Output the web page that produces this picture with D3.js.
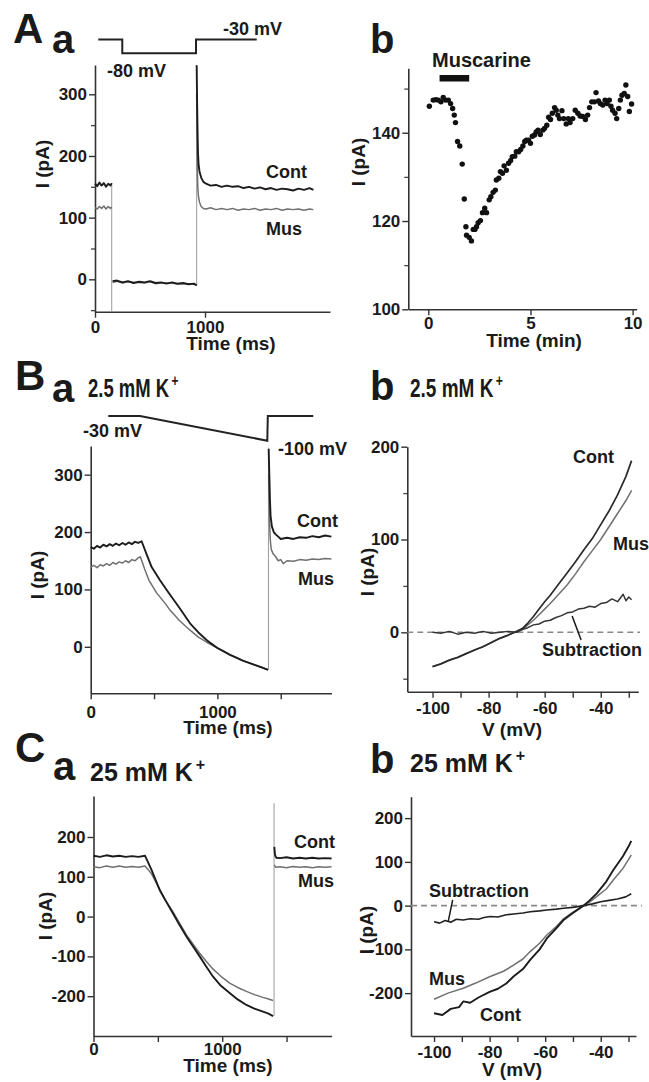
<!DOCTYPE html>
<html>
<head>
<meta charset="utf-8">
<script src="https://cdn.jsdelivr.net/npm/d3@7/dist/d3.min.js"></script>
<style>
  html, body { margin: 0; padding: 0; background: #fff; }
  svg { display: block; }
</style>
</head>
<body>
<script>
// ---------------- DATA ----------------
// Panel A a : current traces (time ms, current pA)
const aaContPre  = [[0,155],[20,151],[40,157],[60,152],[80,156],[100,150],[120,155],[140,152],[152,156]];
const aaMusPre   = [[0,116],[20,114],[40,118],[60,115],[80,119],[100,114],[120,118],[140,115],[152,117]];
const aaContMid  = [[160,-3],[200,-2],[250,-5],[300,-3],[350,-6],[400,-4],[450,-5],[500,-3],[550,-6],[600,-5],[650,-7],[700,-5],[750,-7],[800,-6],[850,-8],[900,-7],[924,-10]];
const aaMusMid   = [[160,-5],[200,-3],[250,-6],[300,-4],[350,-5],[400,-5],[450,-6],[500,-4],[550,-7],[600,-6],[650,-6],[700,-6],[750,-8],[800,-7],[850,-7],[900,-8],[924,-9]];
const aaContPost = [[924,347],[928,290],[932,240],[936,205],[942,185],[950,175],[965,165],[985,158],[1010,155],[1050,152],[1100,153],[1150,150],[1200,152],[1250,150],[1300,151],[1350,148],[1400,150],[1450,147],[1500,149],[1550,146],[1600,148],[1650,145],[1700,147],[1750,146],[1800,144],[1850,147],[1900,145],[1950,148],[1985,145]];
const aaMusPost  = [[924,300],[927,250],[930,180],[934,150],[940,135],[950,125],[965,118],[985,115],[1010,114],[1050,116],[1100,113],[1150,115],[1200,113],[1250,115],[1300,112],[1350,114],[1400,113],[1450,115],[1500,112],[1550,114],[1600,113],[1650,115],[1700,112],[1750,114],[1800,113],[1850,114],[1900,112],[1950,114],[1985,113]];
const aaTransients = [[152,156,-52],[924,-10,347]];
const aaProtocol = [[30,-30],[248,-30],[248,-80],[918,-80],[918,-30],[1470,-30]];

// Panel A b : current vs time (min)
const abTime    = [0.05,0.24,0.37,0.49,0.62,0.73,0.85,0.98,1.09,1.19,1.27,1.33,1.43,1.54,1.66,1.76,1.84,1.87,2.0,2.11,2.2,2.28,2.36,2.44,2.55,2.65,2.76,2.85,2.98,3.06,3.17,3.28,3.33,3.45,3.53,3.63,3.71,3.82,3.93,4.03,4.11,4.23,4.31,4.42,4.52,4.63,4.72,4.8,4.91,5.0,5.09,5.2,5.28,5.37,5.48,5.61,5.69,5.8,5.89,5.98,6.07,6.18,6.26,6.34,6.42,6.54,6.63,6.75,6.85,6.94,7.07,7.19,7.32,7.43,7.56,7.69,7.8,7.89,8.0,8.13,8.21,8.33,8.42,8.54,8.65,8.75,8.86,8.94,9.02,9.14,9.22,9.32,9.4,9.48,9.59,9.67,9.76,9.84,9.95];
const abCurrent = [146.0,147.4,147.5,147.4,147.0,148.0,147.4,147.4,146.6,145.5,144.0,142.3,138.0,137.0,132.9,125.0,118.7,116.8,116.3,115.5,118.1,118.1,118.7,119.6,120.1,121.9,122.9,121.9,124.8,125.5,126.5,127.0,129.3,129.7,131.2,130.8,132.5,131.5,133.1,133.7,134.6,134.7,135.7,135.7,136.2,137.0,138.0,138.3,138.3,137.6,139.2,139.5,140.2,140.6,139.6,140.6,141.0,141.7,143.5,143.0,144.4,145.7,145.1,144.0,143.2,145.0,143.2,142.0,143.2,142.3,143.2,145.1,144.4,143.8,143.7,143.0,144.0,145.7,147.0,147.0,149.1,147.2,146.6,146.3,147.4,146.6,147.4,146.0,145.1,144.4,143.2,145.5,147.4,148.5,148.9,150.8,148.2,144.8,146.5];
const muscarineBar = [0.55, 2.0];

// Panel B a : 2.5 mM K+, ramp protocol
const baCont = [[0,174],[25,171],[50,176],[75,173],[100,178],[125,175],[150,179],[175,176],[200,180],[225,177],[250,181],[275,178],[300,182],[325,179],[350,183],[375,181],[402,184],[440,162],[481,139],[547,116],[600,99],[652,83],[700,68],[784,41],[850,25],[915,12],[950,6],[1000,-2],[1050,-8],[1100,-14],[1150,-19],[1200,-24],[1250,-28],[1300,-32],[1350,-36],[1400,-40]];
const baMus  = [[0,139],[25,142],[50,138],[75,143],[100,141],[125,145],[150,142],[175,147],[200,144],[225,148],[250,146],[275,150],[300,147],[325,152],[350,150],[375,155],[392,157],[425,136],[460,116],[520,94],[594,74],[626,64],[700,46],[784,29],[850,17],[915,8],[950,4],[1000,-2],[1050,-8],[1100,-14],[1150,-19],[1200,-24],[1250,-28],[1300,-32],[1350,-36],[1400,-40]];
const baContPost = [[1405,345],[1410,300],[1415,255],[1420,228],[1430,210],[1445,200],[1460,196],[1480,192],[1500,188],[1550,190],[1600,188],[1650,191],[1700,190],[1750,193],[1800,191],[1850,194],[1900,192]];
const baMusPost  = [[1405,300],[1408,260],[1412,215],[1418,185],[1425,170],[1440,162],[1460,157],[1480,150],[1500,152],[1520,145],[1550,150],[1600,149],[1650,152],[1700,151],[1750,153],[1800,152],[1850,154],[1900,153]];
const baTransients = [[1403,-40,347]];
const baProtocol = [[139,-30],[389,-30],[1394,-100],[1398,-30],[1757,-30]];

// Panel B b : I-V (mV, pA)
const bbCont = [[-100,-37],[-97,-34],[-94,-30],[-91,-27],[-88,-23],[-85,-19],[-82,-15.5],[-79,-11],[-76,-6.5],[-73,-3],[-70,1],[-68,4],[-66,10],[-64,17],[-62,25],[-60,33],[-58,40],[-55,52],[-52,64],[-49,76],[-46,89],[-43,101],[-40,116],[-37,131],[-34,148],[-31,168],[-29,185]];
const bbMus  = [[-100,-37],[-97,-34],[-94,-30],[-91,-27],[-88,-23],[-85,-19],[-82,-15.5],[-79,-11],[-76,-6.5],[-73,-3],[-70,1],[-68,3],[-66,8],[-64,13],[-62,19],[-60,25],[-58,31],[-55,41],[-52,51],[-49,63],[-46,76],[-43,88],[-40,100],[-37,114],[-34,128],[-31,142],[-29,153]];
const bbSub  = [[-100,0],[-97,-1],[-94,1],[-91,-2],[-88,0],[-85,-1],[-82,1],[-79,-1],[-76,0],[-73,1],[-70,0],[-68,3],[-66,5],[-64,8],[-62,9],[-60,12],[-58,13],[-56,16],[-54,18],[-52,21],[-50,22],[-48,25],[-46,26],[-44,28],[-42,27],[-40,31],[-38,32],[-36,36],[-34,33],[-32,41],[-31,34],[-30,38],[-29,35]];
const bbPointer = [[-50.2,17.5],[-47,-8.3]];

// Panel C a : 25 mM K+
const caCont = [[0,153],[50,150],[100,154],[150,151],[200,153],[250,150],[300,152],[350,150],[400,153],[450,118],[514,67],[566,37],[618,8],[670,-22],[722,-50],[775,-76],[825,-100],[877,-126],[929,-151],[990,-174],[1058,-192],[1120,-208],[1188,-222],[1250,-231],[1317,-239],[1360,-244],[1395,-250]];
const caMus  = [[0,125],[50,123],[100,127],[150,124],[200,127],[250,124],[300,126],[350,124],[400,127],[450,108],[489,84],[560,40],[618,12],[670,-17],[722,-46],[775,-70],[825,-92],[877,-113],[929,-132],[990,-150],[1058,-167],[1120,-178],[1188,-188],[1250,-196],[1317,-203],[1360,-207],[1395,-211]];
const caContPost = [[1405,175],[1410,155],[1420,148],[1450,147],[1500,149],[1550,146],[1600,148],[1650,146],[1700,148],[1750,146],[1800,147],[1850,146]];
const caMusPost  = [[1405,130],[1415,124],[1450,125],[1500,123],[1550,126],[1600,124],[1650,125],[1700,123],[1750,125],[1800,124],[1850,125]];
const caTransients = [[1403,-250,285]];

// Panel C b : I-V
const cbCont = [[-100,-246],[-97,-250],[-94,-236],[-91,-232],[-89.5,-219],[-87,-222],[-84,-210],[-80,-197],[-77,-190],[-74,-178],[-71.4,-162],[-68,-145],[-65.4,-124],[-62,-100],[-59.4,-75],[-56,-52],[-53.4,-33],[-50,-17],[-46.2,0],[-44,12],[-41.4,28],[-38,55],[-35.4,82],[-32,113],[-30,135],[-29,148]];
const cbMus  = [[-100,-214],[-95,-200],[-89.5,-189],[-85,-177],[-79.8,-162],[-75,-150],[-71.4,-136],[-68,-122],[-65.4,-105],[-62,-86],[-59.4,-67],[-56,-48],[-53.4,-30],[-50,-15],[-46.2,0],[-44,8],[-41.4,21],[-38,38],[-35.4,59],[-32,85],[-30,105],[-29,116]];
const cbSub  = [[-100,-37],[-98,-40],[-96,-34],[-94,-38],[-92,-31],[-89.5,-33],[-87,-30],[-84,-31],[-82,-27],[-79.8,-25],[-77,-26],[-74,-21],[-71.4,-19],[-68,-17],[-65.4,-14],[-62,-12],[-59.4,-10],[-56,-8],[-53.4,-6],[-50,-4],[-46.2,0],[-43,4],[-40,9],[-37,12],[-34,15],[-31,20],[-29,27]];
const cbPointer = [[-93.3,13],[-94.9,-36.6]];

// Tick values / labels
const aaYTicks = [0,100,200,300], aaYMinor = [-50,50,150,250], aaXTicks = [0,1000];
const abYTicks = [100,120,140], abYMinor = [110,130,150], abXTicks = [0,5,10];
const baYTicks = [0,100,200,300], baXTicks = [0,500,1000,1500], baXLabels = [0,1000];
const bbYTicks = [0,100,200], bbYMinor = [-50,50,150], bbXTicks = [-100,-90,-80,-70,-60,-50,-40,-30], bbXLabels = [-100,-80,-60,-40];
const caYTicks = [-200,-100,0,100,200], caXTicks = [0,500,1000,1500], caXLabels = [0,1000];
const cbYTicks = [-200,-100,0,100,200], cbXTicks = [-100,-90,-80,-70,-60,-50,-40,-30], cbXLabels = [-100,-80,-60,-40];

// ---------------- DRAWING ----------------
const FONT = "'Liberation Sans', Arial, Helvetica, sans-serif";
const INK = "#1a1a1a";
const svg = d3.select("body").append("svg").attr("width", 649).attr("height", 1082)
  .attr("font-family", FONT).attr("font-weight", "bold");

function text(x, y, s, size, opts = {}) {
  const t = svg.append("text").attr("x", x).attr("y", y).attr("font-size", size)
    .attr("fill", INK).text(s);
  if (opts.anchor) t.attr("text-anchor", opts.anchor);
  return t;
}
// "… K+" title with superscript plus inside one text element (optionally narrowed)
function kTitle(x, y, s, sx = 1) {
  const t = svg.append("text").attr("transform", `translate(${x},${y}) scale(${sx},1)`)
    .attr("font-size", 25).attr("fill", INK);
  t.append("tspan").text(s);
  t.append("tspan").attr("font-size", 16).attr("dx", 3).attr("dy", -11).text("+");
}
function rotText(cx, cy, s, size) {
  svg.append("text").attr("transform", `translate(${cx},${cy}) rotate(-90)`)
    .attr("text-anchor", "middle").attr("dominant-baseline", "central")
    .attr("font-size", size).attr("fill", INK).text(s);
}

function panel(c) {
  const x = d3.scaleLinear(c.xDomain, c.xRange);
  const y = d3.scaleLinear(c.yDomain, c.yRange);
  const fmt = labels => d => (labels.includes(d) ? String(d) : "");
  if (c.yMinor) {
    svg.append("g").attr("transform", `translate(${c.xRange[0]},0)`)
      .call(d3.axisLeft(y).tickValues(c.yMinor).tickSize(4).tickSizeOuter(0).tickFormat(""))
      .call(g => g.select(".domain").remove())
      .call(g => g.selectAll("line").attr("stroke", "#444").attr("stroke-width", 1.3));
  }
  const gy = svg.append("g").attr("transform", `translate(${c.xRange[0]},0)`)
    .call(d3.axisLeft(y).tickValues(c.yTicks).tickSize(6).tickPadding(2).tickSizeOuter(0)
      .tickFormat(fmt(c.yLabels || c.yTicks)));
  const gx = svg.append("g").attr("transform", `translate(0,${c.yRange[0]})`)
    .call(d3.axisBottom(x).tickValues(c.xTicks).tickSize(6).tickSizeOuter(0)
      .tickFormat(fmt(c.xLabels || c.xTicks)));
  [gy, gx].forEach(g => {
    g.attr("font-family", FONT).attr("font-weight", "bold").attr("font-size", 17);
    g.select(".domain").attr("stroke", "#333").attr("stroke-width", 1.6);
    g.selectAll(".tick line").attr("stroke", "#333").attr("stroke-width", 1.4);
    g.selectAll(".tick text").attr("fill", INK);
  });
  gx.selectAll(".tick text").attr("dy", null).attr("y", c.xLabelOffset);
  return { x, y };
}

function trace(p, data, color, w) {
  svg.append("path").datum(data)
    .attr("fill", "none").attr("stroke", color).attr("stroke-width", w)
    .attr("stroke-linejoin", "round")
    .attr("d", d3.line().x(d => p.x(d[0])).y(d => p.y(d[1])));
}
function transients(p, list) {
  list.forEach(([t, a, b]) => {
    svg.append("line").attr("x1", p.x(t)).attr("x2", p.x(t))
      .attr("y1", p.y(a)).attr("y2", p.y(b))
      .attr("stroke", "#9a9a9a").attr("stroke-width", 1);
  });
}
function zeroLine(p, xEnd) {
  svg.append("line").attr("x1", p.x.range()[0]).attr("x2", xEnd)
    .attr("y1", p.y(0)).attr("y2", p.y(0))
    .attr("stroke", "#8a8a8a").attr("stroke-width", 1.6).attr("stroke-dasharray", "6,4");
}
function pointer(p, pts) {
  svg.append("line").attr("x1", p.x(pts[0][0])).attr("y1", p.y(pts[0][1]))
    .attr("x2", p.x(pts[1][0])).attr("y2", p.y(pts[1][1]))
    .attr("stroke", INK).attr("stroke-width", 1.5);
}

const CONT = "#1c1c1c", MUS = "#707070";
const CW = 1.9, MW = 1.5;

// ===== A a =====
const pAa = panel({ xDomain: [0, 2136], xRange: [95, 330], yDomain: [-52.5, 347.5], yRange: [311.7, 65],
  yTicks: aaYTicks, yMinor: aaYMinor, xTicks: aaXTicks, xLabelOffset: 21 });
transients(pAa, aaTransients);
[aaMusPre, aaMusMid, aaMusPost].forEach(d => trace(pAa, d, MUS, MW));
[aaContPre, aaContMid, aaContPost].forEach(d => trace(pAa, d, CONT, CW));
const vAa = d3.scaleLinear([-80, -30], [53.3, 39.5]);
svg.append("path").datum(aaProtocol).attr("fill", "none").attr("stroke", "#222").attr("stroke-width", 2)
  .attr("d", d3.line().x(d => pAa.x(d[0])).y(d => vAa(d[1])));
text(13, 43, "A", 42); text(52, 53, "a", 40);
text(223, 35, "-30 mV", 18); text(107, 76.5, "-80 mV", 18);
text(266, 178, "Cont", 18); text(266, 235, "Mus", 18);
text(231, 350, "Time (ms)", 19, { anchor: "middle" });
rotText(42, 164, "I (pA)", 19);

// ===== A b =====
const pAb = panel({ xDomain: [-0.98, 10.2], xRange: [408.3, 636.7], yDomain: [100, 154.6], yRange: [309.3, 68.3],
  yTicks: abYTicks, yMinor: abYMinor, xTicks: abXTicks, xLabelOffset: 20 });
svg.append("g").selectAll("circle").data(abTime).join("circle")
  .attr("cx", d => pAb.x(d)).attr("cy", (d, i) => pAb.y(abCurrent[i])).attr("r", 2.7).attr("fill", "#111");
svg.append("rect").attr("x", pAb.x(muscarineBar[0])).attr("width", pAb.x(muscarineBar[1]) - pAb.x(muscarineBar[0]))
  .attr("y", 75).attr("height", 6.5).attr("fill", "#111");
text(370, 53, "b", 40);
text(432, 66.5, "Muscarine", 20);
text(534, 347, "Time (min)", 19, { anchor: "middle" });
rotText(358, 162, "I (pA)", 19);

// ===== B a =====
const pBa = panel({ xDomain: [0, 1900], xRange: [90.7, 331.4], yDomain: [-81, 350], yRange: [693.3, 446],
  yTicks: baYTicks, xTicks: baXTicks, xLabels: baXLabels, xLabelOffset: 25 });
transients(pBa, baTransients);
trace(pBa, baMus, MUS, MW); trace(pBa, baMusPost, MUS, MW);
trace(pBa, baCont, CONT, CW); trace(pBa, baContPost, CONT, CW);
const vBa = d3.scaleLinear([-100, -30], [440.7, 416]);
svg.append("path").datum(baProtocol).attr("fill", "none").attr("stroke", "#222").attr("stroke-width", 2)
  .attr("d", d3.line().x(d => pBa.x(d[0])).y(d => vBa(d[1])));
text(15, 390, "B", 42); text(52, 401.5, "a", 40);
kTitle(88, 397, "2.5 mM K", 0.74);
text(83, 436.5, "-30 mV", 18); text(278, 455, "-100 mV", 18);
text(297, 527, "Cont", 18); text(298, 585, "Mus", 18);
text(228, 734, "Time (ms)", 19, { anchor: "middle" });
rotText(37, 575, "I (pA)", 19);

// ===== B b =====
const pBb = panel({ xDomain: [-109, -26.6], xRange: [407.3, 638.3], yDomain: [-64, 200], yRange: [691.7, 446.7],
  yTicks: bbYTicks, yMinor: bbYMinor, xTicks: bbXTicks, xLabels: bbXLabels, xLabelOffset: 22 });
zeroLine(pBb, 640);
trace(pBb, bbMus, MUS, MW);
trace(pBb, bbCont, "#2a2a2a", 1.7);
trace(pBb, bbSub, "#333", 1.5);
pointer(pBb, bbPointer);
text(370, 400, "b", 40);
kTitle(410, 397, "2.5 mM K", 0.76);
text(573, 463, "Cont", 18); text(613, 550, "Mus", 18); text(542, 656, "Subtraction", 18);
text(512, 736, "V (mV)", 19, { anchor: "middle" });
rotText(367, 572, "I (pA)", 19);

// ===== C a =====
const pCa = panel({ xDomain: [0, 1850], xRange: [93.5, 331.6], yDomain: [-300, 303], yRange: [1036, 796],
  yTicks: caYTicks, xTicks: caXTicks, xLabels: caXLabels, xLabelOffset: 19 });
transients(pCa, caTransients);
trace(pCa, caMus, MUS, MW); trace(pCa, caMusPost, MUS, MW);
trace(pCa, caCont, CONT, CW); trace(pCa, caContPost, CONT, CW);
text(15, 762, "C", 42); text(53, 780, "a", 40);
kTitle(90, 781, "25 mM K");
text(294, 848, "Cont", 18); text(298, 887, "Mus", 18);
text(228, 1072, "Time (ms)", 19, { anchor: "middle" });
rotText(45, 916, "I (pA)", 19);

// ===== C b =====
const pCb = panel({ xDomain: [-108.3, -27.3], xRange: [411, 636], yDomain: [-298, 249], yRange: [1036, 796.7],
  yTicks: cbYTicks, xTicks: cbXTicks, xLabels: cbXLabels, xLabelOffset: 22 });
zeroLine(pCb, 642);
trace(pCb, cbMus, MUS, MW);
trace(pCb, cbCont, CONT, CW);
trace(pCb, cbSub, "#222", 1.6);
pointer(pCb, cbPointer);
text(370, 773, "b", 40);
kTitle(410, 772, "25 mM K");
text(429, 897, "Subtraction", 18); text(429, 985, "Mus", 18); text(480, 1021, "Cont", 18);
text(512, 1076, "V (mV)", 19, { anchor: "middle" });
rotText(366, 930, "I (pA)", 19);
</script>
</body>
</html>
